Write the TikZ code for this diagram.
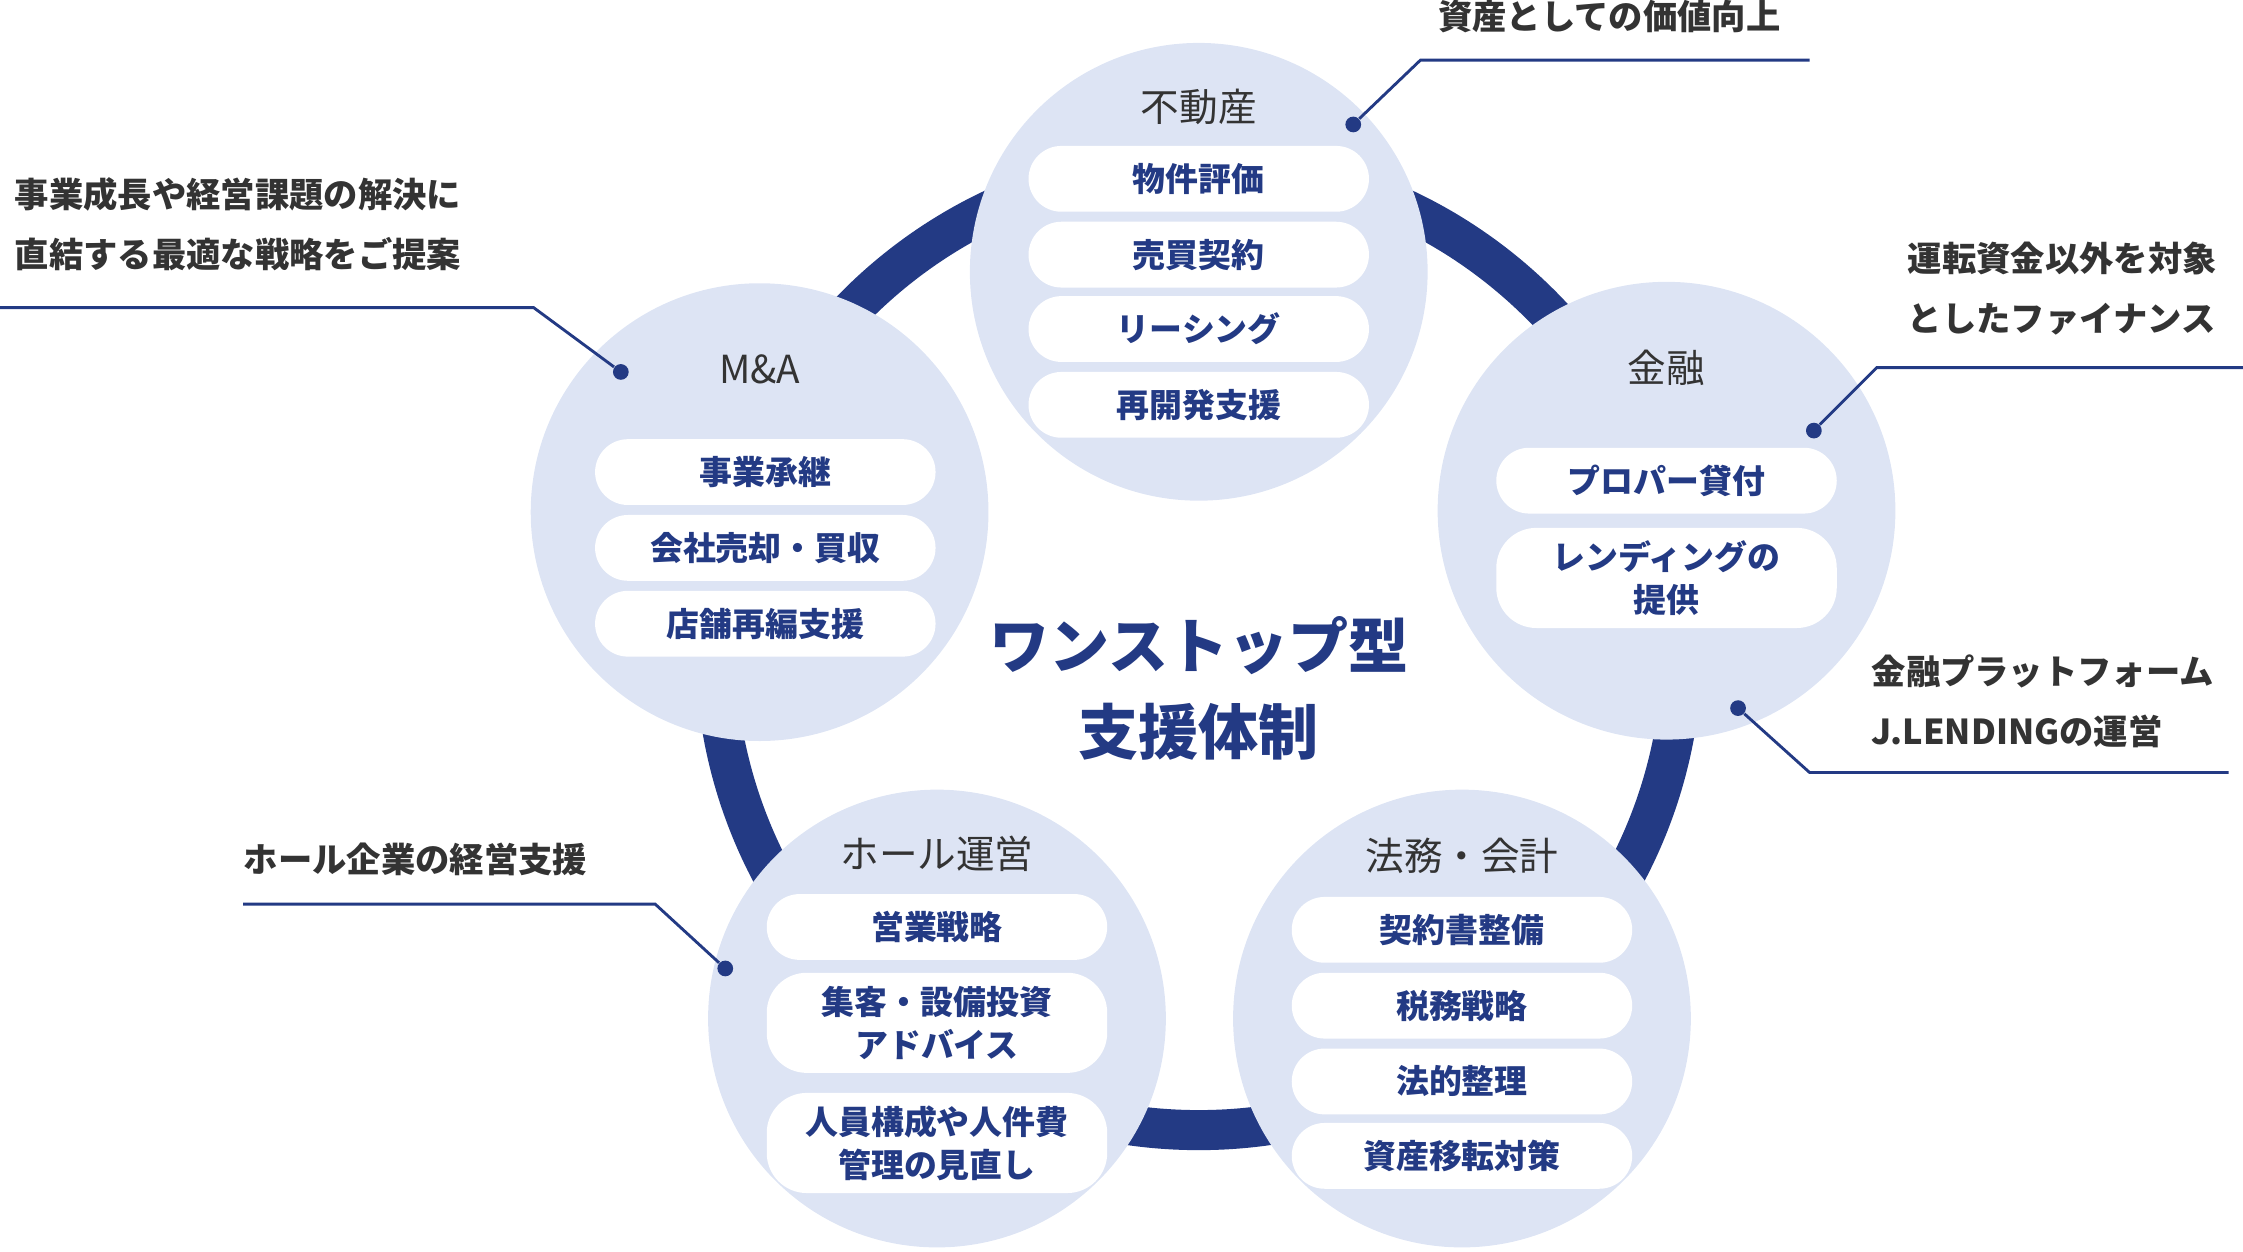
\documentclass[tikz,border=0pt]{standalone}
\usepackage{fontspec}
\setmainfont{Noto Sans CJK JP}
\definecolor{navy}{HTML}{233A84}
\definecolor{lite}{HTML}{DDE4F4}
\definecolor{txt}{HTML}{333333}
\begin{document}
\begin{tikzpicture}[x=0.5pt,y=-0.5pt,
  circ/.style={circle,fill=lite,minimum size=160pt,inner sep=0},
  ttl/.style={text=txt,font=\fontsize{13.5}{15}\selectfont},
  pill/.style={fill=white,rounded corners=11.5pt,minimum width=119pt,minimum height=23pt,text=navy,align=center,font=\bfseries\fontsize{11.5}{15}\selectfont,inner sep=1pt},
  pill2/.style={pill,minimum height=35pt,rounded corners=14pt},
  call/.style={text=txt,align=left,font=\bfseries\fontsize{12}{21}\selectfont,inner sep=0},
  dot/.style={circle,fill=navy,minimum size=5.5pt,inner sep=0},
  ln/.style={draw=navy,line width=1pt}]
\useasboundingbox (0,0) rectangle (1568,875);
\draw[navy,line width=14pt] (838,452) circle[radius=338];
\node[circ] (c1) at (838,190) {};
\node[circ] (c2) at (531,358) {};
\node[circ] (c3) at (1165,357) {};
\node[circ] (c4) at (655,712) {};
\node[circ] (c5) at (1022,712) {};
\node[ttl] (t1) at (838,75) {不動産};
\node[pill] (p11) at (838,125) {物件評価};
\node[pill] (p12) at (838,178) {売買契約};
\node[pill] (p13) at (838,230) {リーシング};
\node[pill] (p14) at (838,283) {再開発支援};
\node[ttl] (t2) at (531,258) {M\&A};
\node[pill] (p21) at (535,330) {事業承継};
\node[pill] (p22) at (535,383) {会社売却・買収};
\node[pill] (p23) at (535,436) {店舗再編支援};
\node[ttl] (t3) at (1165,257) {金融};
\node[pill] (p31) at (1165,336) {プロパー貸付};
\node[pill2] (p32) at (1165,404) {レンディングの\\提供};
\node[ttl] (t4) at (655,597) {ホール運営};
\node[pill] (p41) at (655,648) {営業戦略};
\node[pill2] (p42) at (655,715) {集客・設備投資\\アドバイス};
\node[pill2] (p43) at (655,799) {人員構成や人件費\\管理の見直し};
\node[ttl] (t5) at (1022,598) {法務・会計};
\node[pill] (p51) at (1022,650) {契約書整備};
\node[pill] (p52) at (1022,703) {税務戦略};
\node[pill] (p53) at (1022,756) {法的整理};
\node[pill] (p54) at (1022,808) {資産移転対策};
\node[text=navy,align=center,font=\bfseries\fontsize{21}{30}\selectfont] (ctr) at (838,481) {ワンストップ型\\支援体制};
\node[call,anchor=north] (k1) at (1125,0) {資産としての価値向上};
\node[dot] (d1) at (946,87) {};
\coordinate (e1) at (1265,42);
\draw[ln] (d1) -- (993,42) -- (e1);
\node[call,anchor=north west] (k2) at (10,124) {事業成長や経営課題の解決に\\直結する最適な戦略をご提案};
\node[dot] (d2) at (434,260) {};
\coordinate (e2) at (0,215);
\draw[ln] (d2) -- (373,215) -- (e2);
\node[call,anchor=north east] (k3) at (1550,169) {運転資金以外を対象\\としたファイナンス};
\node[dot] (d3) at (1268,301) {};
\coordinate (e3) at (1568,257);
\draw[ln] (d3) -- (1312,257) -- (e3);
\node[call,anchor=north west] (k4) at (1308,457) {金融プラットフォーム\\J.LENDINGの運営};
\node[dot] (d4) at (1215,495) {};
\coordinate (e4) at (1558,540);
\draw[ln] (d4) -- (1265,540) -- (e4);
\node[call,anchor=north west] (k5) at (170,589) {ホール企業の経営支援};
\node[dot] (d5) at (507,677) {};
\coordinate (e5) at (170,632);
\draw[ln] (d5) -- (458,632) -- (e5);
\end{tikzpicture}
\end{document}
